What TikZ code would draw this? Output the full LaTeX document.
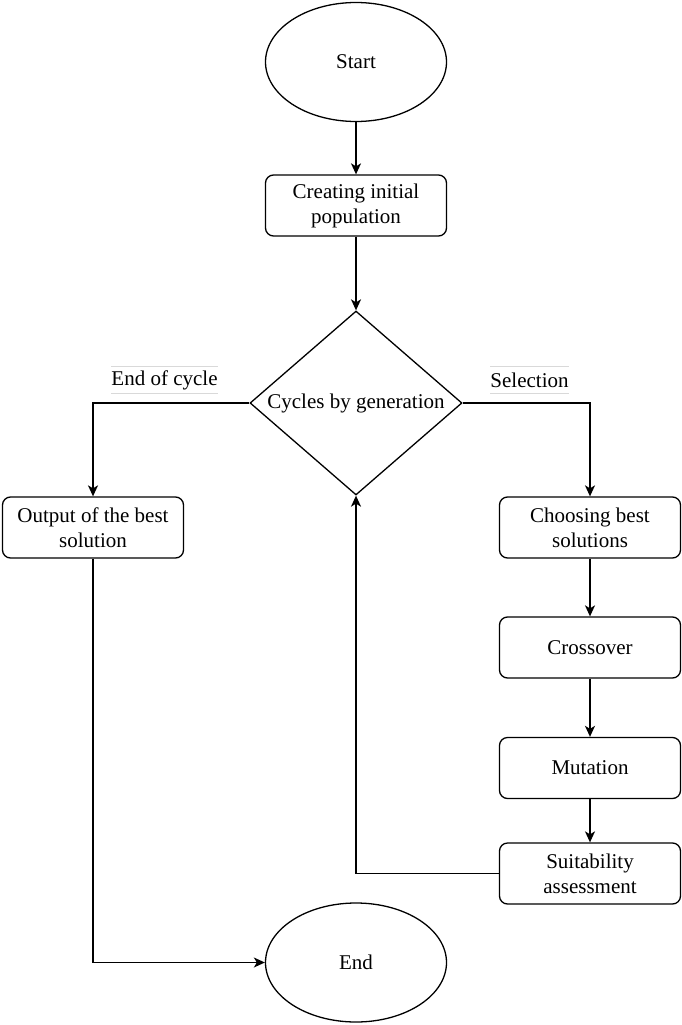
\documentclass[tikz,border=0pt]{standalone}
\usepackage{fontspec}
\setmainfont{Liberation Serif}
\usetikzlibrary{shapes.geometric,arrows.meta}

\begin{document}
\begin{tikzpicture}[x=1pt,y=-1pt,
   every node/.style={font=\fontsize{21}{25}\selectfont,align=center},
   term/.style={ellipse,draw,line width=1.3pt,minimum width=181pt,minimum height=119pt,inner sep=0pt},
   proc/.style={rectangle,draw,rounded corners=8pt,line width=1.3pt,minimum width=181pt,minimum height=61pt,inner sep=0pt},
   decide/.style={diamond,draw,line width=1.3pt,aspect=1.15,minimum width=212pt,minimum height=184pt,inner sep=0pt},
   lbl/.style={inner xsep=0pt,inner ysep=0pt,minimum height=26pt},
   faint/.style={draw=black!15,line width=0.8pt},
   arr/.style={-{Stealth[length=11pt,width=10pt,inset=3pt]},line width=1.5pt}]
   \useasboundingbox (0,0) rectangle (681,1025);
   \node[term] (start) at (356,62) {Start};
   \node[proc] (init) at (356,205.5) {Creating initial\\population};
   \node[decide] (cyc) at (356,403) {Cycles by generation};
   \node[proc] (best) at (93,527.5) {Output of the best\\solution};
   \node[proc] (choose) at (590,527.5) {Choosing best\\solutions};
   \node[proc] (cross) at (590,647.5) {Crossover};
   \node[proc] (mut) at (590,768) {Mutation};
   \node[proc] (suit) at (590,873.5) {Suitability\\assessment};
   \node[term] (end) at (356,962.5) {End};
   \node[lbl] (eoc) at (164.5,380) {End of cycle};
   \node[lbl] (sel) at (529.5,380) {Selection};
   \foreach \n in {eoc,sel}
      \path[faint] (\n.north west) -- (\n.north east) (\n.south west) -- (\n.south east);
   \draw[arr] (start) -- (init);
   \draw[arr] (init) -- (cyc);
   \draw[arr] (choose) -- (cross);
   \draw[arr] (cross) -- (mut);
   \draw[arr] (mut) -- (suit);
   \draw[arr] (cyc.west) -| (best);
   \draw[arr] (cyc.east) -| (choose);
   \draw[arr] (suit.west) -| (cyc.south);
   \draw[arr] (best) |- (end);
\end{tikzpicture}
\end{document}
